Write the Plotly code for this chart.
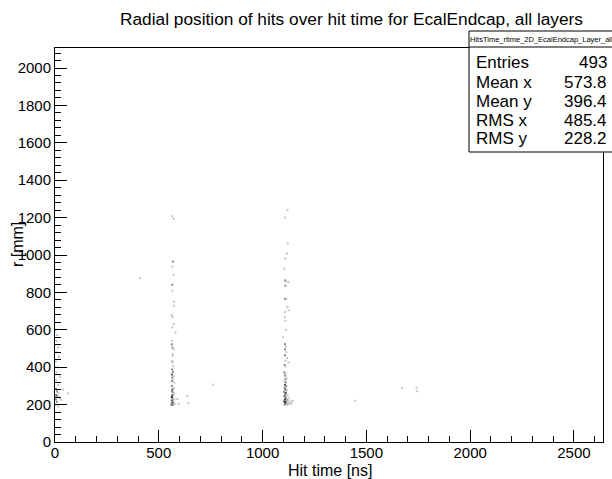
import plotly.graph_objects as go

# hit time [ns], radius [mm], number of hits in the cell (shade)
# hits around t ~ 565 ns
time_a = [566, 572, 568, 566, 572, 565, 566, 574, 572, 563, 566, 572, 566, 565, 563, 566, 572,
          566, 563, 568, 565, 568, 563, 572, 565, 568, 563, 575, 566, 563, 568, 572, 565, 563,
          567, 575, 563, 569, 565, 577, 560, 568, 590, 596, 580, 570, 567, 563, 572]
r_a = [1207, 1193, 965, 938, 895, 841, 809, 751, 729, 680, 668, 631, 614, 541, 522, 505, 496,
       460, 433, 425, 388, 375, 361, 352, 345, 333, 325, 318, 281, 272, 265, 258, 250, 240,
       233, 228, 222, 215, 208, 205, 200, 198, 230, 205, 585, 405, 470, 300, 290]
n_a = [1, 1, 2, 1, 1, 2, 1, 1, 1, 1, 1, 1, 1, 1, 2, 2, 1,
       1, 1, 1, 2, 2, 3, 1, 2, 1, 2, 1, 3, 2, 2, 1, 3, 4,
       2, 1, 3, 2, 3, 1, 2, 2, 1, 1, 1, 1, 1, 2, 1]

# hits around t ~ 1110 ns
time_b = [1120, 1108, 1122, 1118, 1110, 1105, 1108, 1115, 1125, 1110, 1108, 1115, 1120, 1125,
          1108, 1106, 1110, 1108, 1112, 1108, 1115, 1108, 1118, 1110, 1125, 1106, 1110, 1105,
          1112, 1108, 1115, 1110, 1106, 1112, 1108, 1114, 1106, 1110, 1117, 1104, 1112, 1108,
          1120, 1106, 1112, 1125, 1108, 1116, 1130, 1104, 1110, 1122, 1136, 1108, 1114, 1128,
          1140, 1106, 1118, 1145, 1100, 1113]
r_b = [1240, 1200, 1062, 1008, 981, 927, 864, 858, 856, 836, 765, 767, 722, 705,
       695, 668, 648, 523, 510, 495, 480, 464, 450, 435, 425, 412, 404, 372,
       365, 355, 345, 335, 324, 318, 305, 298, 290, 280, 275, 268, 262, 255,
       250, 245, 238, 236, 230, 225, 222, 218, 214, 212, 210, 207, 204, 203,
       206, 200, 198, 220, 560, 600]
n_b = [1, 1, 1, 1, 1, 1, 2, 1, 1, 2, 2, 1, 1, 1,
       1, 1, 1, 2, 1, 2, 1, 2, 1, 1, 1, 2, 1, 2,
       1, 2, 1, 2, 1, 2, 3, 2, 2, 3, 1, 2, 3, 2,
       1, 3, 2, 1, 3, 2, 1, 3, 4, 1, 1, 3, 2, 1,
       1, 2, 1, 1, 1, 1]

# early hits near t = 0 and a few stray ones
time_c = [5, 10, 8, 14, 6, 20, 4, 12, 8, 25, 6, 15, 4, 10, 18, 6, 12, 22, 4, 30, 9, 62, 40, 3, 16,
          409, 762, 638, 643, 1447, 1672, 1742, 1745]
r_c = [600, 572, 540, 505, 480, 455, 430, 400, 372, 350, 330, 305, 285, 270, 260, 250, 242, 236,
       228, 225, 215, 260, 280, 200, 190,
       877, 307, 245, 209, 221, 289, 290, 272]
n_c = [1, 1, 1, 1, 1, 1, 1, 1, 1, 1, 1, 1, 2, 2, 1, 3, 2, 1, 2, 1, 2, 1, 1, 1, 1,
       1, 1, 1, 1, 1, 1, 1, 1]

hit_time = time_a + time_b + time_c
radius = r_a + r_b + r_c
counts = n_a + n_b + n_c

stat_names = ['Entries', 'Mean x', 'Mean y', 'RMS x', 'RMS y']
stat_values = ['493', '573.8', '396.4', '485.4', '228.2']
hist_name = 'HitsTime_rtime_2D_EcalEndcap_Layer_all'

FONT = 'Liberation Sans, Arial, Helvetica, sans-serif'

fig = go.Figure()
fig.add_trace(go.Scatter(
    x=hit_time, y=radius, mode='markers',
    marker=dict(symbol='square', size=2, color=counts, cmin=1, cmax=4,
                colorscale=[[0, '#c4c4c4'], [1, '#1a1a1a']], line=dict(width=0)),
    hoverinfo='x+y', showlegend=False
))

axis_common = dict(
    showline=True, linecolor='black', linewidth=1, mirror=True,
    ticks='inside', ticklen=12, tickcolor='black', tickwidth=1,
    showgrid=False, zeroline=False,
    tickfont=dict(family=FONT, size=15, color='black'),
)
fig.update_xaxes(range=[0, 2640], dtick=500, tick0=0, ticklabelstandoff=-3,
                 minor=dict(ticks='inside', ticklen=6, dtick=100, tickcolor='black'),
                 **axis_common)
fig.update_yaxes(range=[0, 2107], dtick=200, tick0=0,
                 minor=dict(ticks='inside', ticklen=6, dtick=40, tickcolor='black'),
                 **axis_common)

L, R, T, B = 55, 9, 48, 37
W, H = 612, 479
pw, ph = W - L - R, H - T - B

def px(x):
    return (x - L) / pw

def py(y):
    return (H - B - y) / ph

# stats box
fig.add_shape(type='rect', xref='paper', yref='paper', x0=px(469), x1=px(616), y0=py(152), y1=py(31),
              fillcolor='white', line=dict(color='black', width=1), layer='above')
fig.add_shape(type='line', xref='paper', yref='paper', x0=px(469), x1=px(616), y0=py(47), y1=py(47),
              line=dict(color='black', width=1), layer='above')

annotations = [
    dict(text=hist_name, x=px(541), y=py(39), xanchor='center', yanchor='middle',
         font=dict(family=FONT, size=7.5, color='black')),
    dict(text='Radial position of hits over hit time for EcalEndcap, all layers',
         x=px(351), y=py(19), xanchor='center', yanchor='middle',
         font=dict(family=FONT, size=17.3, color='black')),
    dict(text='Hit time [ns]', x=px(330), y=py(470), xanchor='center', yanchor='middle',
         font=dict(family=FONT, size=16, color='black')),
    dict(text='r [mm]', x=px(17), y=py(245), xanchor='center', yanchor='middle', textangle=-90,
         font=dict(family=FONT, size=16, color='black')),
]
rows_y = [63, 82, 101, 120, 138]
for name, val, yy in zip(stat_names, stat_values, rows_y):
    annotations.append(dict(text=name, x=px(474), y=py(yy), xanchor='left', yanchor='middle',
                            font=dict(family=FONT, size=17, color='black')))
    annotations.append(dict(text=val, x=px(609), y=py(yy), xanchor='right', yanchor='middle',
                            font=dict(family=FONT, size=17, color='black')))
for a in annotations:
    a.update(xref='paper', yref='paper', showarrow=False)

fig.update_layout(
    width=W, height=H,
    margin=dict(l=L, r=R, t=T, b=B),
    paper_bgcolor='white', plot_bgcolor='white',
    annotations=annotations,
)

# drop the default page margin so the figure sits at the window corner
fig.write_html("out.html", config={'displayModeBar': False},
               post_script="document.body.style.margin='0';")
